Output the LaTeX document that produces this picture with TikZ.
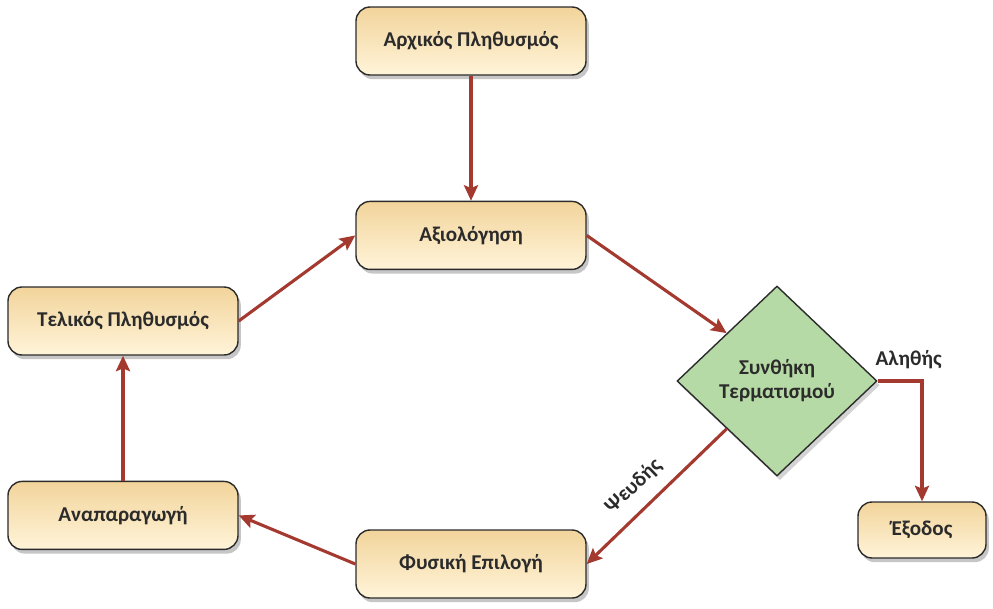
\documentclass[tikz,border=0pt]{standalone}
\usepackage{fontspec}
\setmainfont{Carlito}
\usepackage{tikz}
\usetikzlibrary{arrows.meta,positioning,shadows,shapes.geometric}
\definecolor{FlowRed}{HTML}{A3392F}
\definecolor{FlowTan}{HTML}{F2D49B}
\definecolor{FlowCream}{HTML}{FFF4D9}
\definecolor{FlowGreen}{HTML}{B6DAA6}
\definecolor{FlowInk}{HTML}{2B2B2B}

\begin{document}
\begin{tikzpicture}[
    every node/.style={font=\fontsize{15}{17}\selectfont\bfseries, text=FlowInk},
    stagebox/.style={draw=FlowInk, line width=1pt, rounded corners=10pt, top color=FlowTan, bottom color=FlowCream,
      minimum width=5.75cm, minimum height=1.7cm, align=center,
      drop shadow={shadow xshift=2pt, shadow yshift=-3pt, opacity=0.45}},
    condbox/.style={diamond, draw=FlowInk, line width=1pt, fill=FlowGreen, minimum width=5cm, minimum height=4.75cm,
      inner sep=0pt, align=center, drop shadow={shadow xshift=2pt, shadow yshift=-3pt, opacity=0.35}},
    flow/.style={-{Stealth[length=11pt, width=10pt, inset=2pt]}, line width=2.2pt, FlowRed}]
    \useasboundingbox (0,0) rectangle (24.825,-15.2);

    \node[stagebox] (start) at (11.775,-1.025) {Αρχικός Πληθυσμός};
    \node[stagebox, below=3.125cm of start] (eval) {Αξιολόγηση};
    \node[stagebox] (final) at (3.075,-8.025) {Τελικός Πληθυσμός};
    \node[stagebox, below=3.125cm of final] (repro) {Αναπαραγωγή};
    \node[stagebox] (select) at (11.775,-14.1) {Φυσική Επιλογή};
    \node[condbox] (cond) at (19.425,-9.525) {Συνθήκη\\Τερματισμού};
    \node[stagebox, minimum width=3.2cm, minimum height=1.4cm] (exit) at (23.05,-13.25) {Έξοδος};

    \draw[flow] (start) -- (eval);
    \draw[flow] (eval.east) -- (cond.north west);
    \draw[flow] (cond.east) -| node[pos=0.35, above=0.15cm] (yes) {Αληθής} (exit.north);
    \draw[flow] (cond.south west) -- node[pos=0.55, sloped, above=0.2cm] (no) {Ψευδής} (select.east);
    \draw[flow] (select.west) -- (repro.east);
    \draw[flow] (repro) -- (final);
    \draw[flow] (final.east) -- (eval.west);
\end{tikzpicture}
\end{document}
